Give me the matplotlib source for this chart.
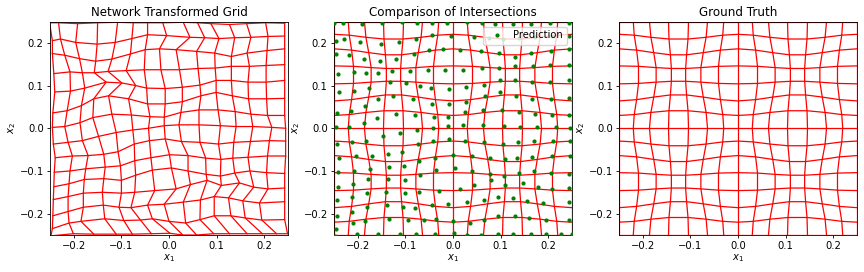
import matplotlib.pyplot as plt
import numpy as np

# Ground truth grid nodes: 15 horizontal lines (rows, bottom -> top) x 15 vertical lines
gt_x = [
    [-0.25, -0.220, -0.186, -0.146, -0.104, -0.064, -0.030, 0.0, 0.030, 0.064, 0.104, 0.146, 0.186, 0.220, 0.25],
    [-0.25, -0.218, -0.183, -0.145, -0.105, -0.067, -0.032, 0.0, 0.032, 0.067, 0.105, 0.145, 0.183, 0.218, 0.25],
    [-0.25, -0.213, -0.177, -0.142, -0.108, -0.073, -0.037, 0.0, 0.037, 0.073, 0.108, 0.142, 0.177, 0.213, 0.25],
    [-0.25, -0.209, -0.172, -0.140, -0.110, -0.078, -0.041, 0.0, 0.041, 0.078, 0.110, 0.140, 0.172, 0.209, 0.25],
    [-0.25, -0.209, -0.172, -0.140, -0.110, -0.078, -0.041, 0.0, 0.041, 0.078, 0.110, 0.140, 0.172, 0.209, 0.25],
    [-0.25, -0.213, -0.177, -0.142, -0.108, -0.073, -0.037, 0.0, 0.037, 0.073, 0.108, 0.142, 0.177, 0.213, 0.25],
    [-0.25, -0.218, -0.183, -0.145, -0.105, -0.067, -0.032, 0.0, 0.032, 0.067, 0.105, 0.145, 0.183, 0.218, 0.25],
    [-0.25, -0.220, -0.186, -0.146, -0.104, -0.064, -0.030, 0.0, 0.030, 0.064, 0.104, 0.146, 0.186, 0.220, 0.25],
    [-0.25, -0.218, -0.183, -0.145, -0.105, -0.067, -0.032, 0.0, 0.032, 0.067, 0.105, 0.145, 0.183, 0.218, 0.25],
    [-0.25, -0.213, -0.177, -0.142, -0.108, -0.073, -0.037, 0.0, 0.037, 0.073, 0.108, 0.142, 0.177, 0.213, 0.25],
    [-0.25, -0.209, -0.172, -0.140, -0.110, -0.078, -0.041, 0.0, 0.041, 0.078, 0.110, 0.140, 0.172, 0.209, 0.25],
    [-0.25, -0.209, -0.172, -0.140, -0.110, -0.078, -0.041, 0.0, 0.041, 0.078, 0.110, 0.140, 0.172, 0.209, 0.25],
    [-0.25, -0.213, -0.177, -0.142, -0.108, -0.073, -0.037, 0.0, 0.037, 0.073, 0.108, 0.142, 0.177, 0.213, 0.25],
    [-0.25, -0.218, -0.183, -0.145, -0.105, -0.067, -0.032, 0.0, 0.032, 0.067, 0.105, 0.145, 0.183, 0.218, 0.25],
    [-0.25, -0.220, -0.186, -0.146, -0.104, -0.064, -0.030, 0.0, 0.030, 0.064, 0.104, 0.146, 0.186, 0.220, 0.25],
]
gt_y = [
    [-0.25] * 15,
    [-0.220, -0.218, -0.213, -0.209, -0.209, -0.213, -0.218, -0.220, -0.218, -0.213, -0.209, -0.209, -0.213, -0.218, -0.220],
    [-0.186, -0.183, -0.177, -0.172, -0.172, -0.177, -0.183, -0.186, -0.183, -0.177, -0.172, -0.172, -0.177, -0.183, -0.186],
    [-0.146, -0.145, -0.142, -0.140, -0.140, -0.142, -0.145, -0.146, -0.145, -0.142, -0.140, -0.140, -0.142, -0.145, -0.146],
    [-0.104, -0.105, -0.108, -0.110, -0.110, -0.108, -0.105, -0.104, -0.105, -0.108, -0.110, -0.110, -0.108, -0.105, -0.104],
    [-0.064, -0.067, -0.073, -0.078, -0.078, -0.073, -0.067, -0.064, -0.067, -0.073, -0.078, -0.078, -0.073, -0.067, -0.064],
    [-0.030, -0.032, -0.037, -0.041, -0.041, -0.037, -0.032, -0.030, -0.032, -0.037, -0.041, -0.041, -0.037, -0.032, -0.030],
    [0.0] * 15,
    [0.030, 0.032, 0.037, 0.041, 0.041, 0.037, 0.032, 0.030, 0.032, 0.037, 0.041, 0.041, 0.037, 0.032, 0.030],
    [0.064, 0.067, 0.073, 0.078, 0.078, 0.073, 0.067, 0.064, 0.067, 0.073, 0.078, 0.078, 0.073, 0.067, 0.064],
    [0.104, 0.105, 0.108, 0.110, 0.110, 0.108, 0.105, 0.104, 0.105, 0.108, 0.110, 0.110, 0.108, 0.105, 0.104],
    [0.146, 0.145, 0.142, 0.140, 0.140, 0.142, 0.145, 0.146, 0.145, 0.142, 0.140, 0.140, 0.142, 0.145, 0.146],
    [0.186, 0.183, 0.177, 0.172, 0.172, 0.177, 0.183, 0.186, 0.183, 0.177, 0.172, 0.172, 0.177, 0.183, 0.186],
    [0.220, 0.218, 0.213, 0.209, 0.209, 0.213, 0.218, 0.220, 0.218, 0.213, 0.209, 0.209, 0.213, 0.218, 0.220],
    [0.25] * 15,
]

# Network prediction nodes (same layout)
net_x = [
    [-0.248, -0.201, -0.158, -0.111, -0.077, -0.037, 0.002, 0.029, 0.058, 0.094, 0.127, 0.164, 0.196, 0.226, 0.249],
    [-0.245, -0.210, -0.185, -0.135, -0.095, -0.060, -0.035, 0.000, 0.035, 0.065, 0.095, 0.130, 0.160, 0.195, 0.243],
    [-0.244, -0.212, -0.180, -0.138, -0.105, -0.080, -0.045, -0.010, 0.030, 0.066, 0.095, 0.125, 0.155, 0.190, 0.243],
    [-0.243, -0.212, -0.180, -0.140, -0.100, -0.072, -0.030, 0.015, 0.045, 0.080, 0.110, 0.148, 0.178, 0.208, 0.243],
    [-0.242, -0.210, -0.178, -0.137, -0.100, -0.070, -0.035, 0.005, 0.040, 0.078, 0.108, 0.138, 0.170, 0.205, 0.243],
    [-0.241, -0.208, -0.175, -0.134, -0.102, -0.072, -0.038, 0.001, 0.040, 0.077, 0.109, 0.134, 0.166, 0.207, 0.245],
    [-0.239, -0.203, -0.170, -0.137, -0.107, -0.073, -0.041, -0.008, 0.026, 0.065, 0.104, 0.136, 0.171, 0.211, 0.245],
    [-0.243, -0.212, -0.182, -0.148, -0.111, -0.076, -0.043, -0.010, 0.021, 0.063, 0.108, 0.141, 0.176, 0.216, 0.245],
    [-0.245, -0.219, -0.187, -0.160, -0.120, -0.079, -0.040, -0.010, 0.025, 0.063, 0.103, 0.139, 0.172, 0.207, 0.243],
    [-0.244, -0.214, -0.184, -0.158, -0.127, -0.085, -0.045, -0.008, 0.028, 0.067, 0.099, 0.133, 0.167, 0.205, 0.243],
    [-0.240, -0.207, -0.177, -0.132, -0.099, -0.070, -0.047, -0.008, 0.028, 0.065, 0.099, 0.131, 0.166, 0.204, 0.243],
    [-0.242, -0.208, -0.182, -0.157, -0.128, -0.090, -0.052, -0.017, 0.022, 0.061, 0.097, 0.131, 0.169, 0.204, 0.243],
    [-0.245, -0.219, -0.188, -0.154, -0.120, -0.081, -0.050, -0.020, 0.015, 0.058, 0.096, 0.131, 0.164, 0.206, 0.243],
    [-0.245, -0.228, -0.196, -0.151, -0.113, -0.078, -0.045, -0.005, 0.044, 0.075, 0.105, 0.138, 0.172, 0.208, 0.243],
    [-0.251, -0.232, -0.192, -0.150, -0.108, -0.075, -0.045, -0.013, 0.030, 0.060, 0.088, 0.127, 0.163, 0.203, 0.243],
]
net_y = [
    [-0.252, -0.247, -0.248, -0.248, -0.248, -0.247, -0.246, -0.250, -0.250, -0.247, -0.247, -0.247, -0.247, -0.247, -0.247],
    [-0.235, -0.222, -0.218, -0.212, -0.216, -0.215, -0.212, -0.218, -0.222, -0.214, -0.205, -0.205, -0.210, -0.215, -0.214],
    [-0.205, -0.195, -0.185, -0.180, -0.185, -0.186, -0.180, -0.178, -0.173, -0.168, -0.160, -0.163, -0.170, -0.175, -0.172],
    [-0.167, -0.160, -0.152, -0.150, -0.152, -0.150, -0.146, -0.142, -0.132, -0.122, -0.134, -0.128, -0.138, -0.142, -0.140],
    [-0.137, -0.130, -0.120, -0.118, -0.122, -0.110, -0.098, -0.093, -0.100, -0.108, -0.112, -0.105, -0.100, -0.104, -0.106],
    [-0.103, -0.100, -0.095, -0.091, -0.088, -0.076, -0.069, -0.062, -0.064, -0.070, -0.073, -0.070, -0.068, -0.065, -0.065],
    [-0.069, -0.065, -0.064, -0.061, -0.055, -0.037, -0.029, -0.025, -0.031, -0.033, -0.037, -0.033, -0.031, -0.029, -0.030],
    [-0.037, -0.033, -0.029, -0.019, -0.010, -0.004, 0.000, 0.006, 0.008, 0.008, 0.006, 0.004, 0.004, 0.002, 0.000],
    [0.002, 0.004, 0.013, 0.025, 0.033, 0.031, 0.027, 0.026, 0.037, 0.043, 0.043, 0.039, 0.033, 0.030, 0.030],
    [0.036, 0.041, 0.053, 0.069, 0.076, 0.069, 0.057, 0.057, 0.062, 0.076, 0.084, 0.076, 0.069, 0.069, 0.070],
    [0.085, 0.087, 0.094, 0.108, 0.106, 0.100, 0.094, 0.093, 0.096, 0.101, 0.112, 0.112, 0.108, 0.108, 0.112],
    [0.128, 0.132, 0.130, 0.130, 0.133, 0.135, 0.137, 0.137, 0.137, 0.140, 0.141, 0.145, 0.145, 0.147, 0.149],
    [0.175, 0.171, 0.163, 0.157, 0.162, 0.174, 0.184, 0.186, 0.184, 0.180, 0.176, 0.168, 0.176, 0.182, 0.186],
    [0.205, 0.209, 0.201, 0.197, 0.201, 0.210, 0.219, 0.217, 0.213, 0.212, 0.210, 0.212, 0.213, 0.215, 0.216],
    [0.247, 0.247, 0.245, 0.247, 0.248, 0.247, 0.247, 0.247, 0.248, 0.247, 0.245, 0.243, 0.245, 0.247, 0.246],
]

titles = ["Network Transformed Grid", "Comparison of Intersections", "Ground Truth"]
ticks = [-0.2, -0.1, 0.0, 0.1, 0.2]

plt.rcParams["font.size"] = 7.2


def draw_grid(ax, gx, gy):
    gx = np.array(gx)
    gy = np.array(gy)
    for j in range(gx.shape[0]):
        ax.plot(gx[j], gy[j], color="red", lw=0.9)
    for i in range(gx.shape[1]):
        ax.plot(gx[:, i], gy[:, i], color="red", lw=0.9)


fig = plt.figure(figsize=(8.64, 2.72), dpi=100)
lefts = [50 / 864, 334 / 864, 619 / 864]
axes = [fig.add_axes([l, 37 / 272, 238 / 864, 213.5 / 272]) for l in lefts]

draw_grid(axes[0], net_x, net_y)
draw_grid(axes[1], gt_x, gt_y)
axes[1].plot(np.array(net_x).ravel(), np.array(net_y).ravel(), "o", color="green",
             ms=2.0, ls="none", label="Prediction", zorder=3)
axes[1].legend(loc="upper right", fontsize=7.2, borderpad=0.4, handletextpad=0.6)
draw_grid(axes[2], gt_x, gt_y)

for ax, t in zip(axes, titles):
    ax.set_xlim(-0.25, 0.25)
    ax.set_ylim(-0.25, 0.25)
    ax.set_xticks(ticks)
    ax.set_yticks(ticks)
    ax.tick_params(length=2.5, width=0.6, pad=2)
    for s in ax.spines.values():
        s.set_linewidth(0.6)
    ax.set_title(t, fontsize=8.6, pad=4)
    ax.set_xlabel("$x_1$", labelpad=1)
    ax.set_ylabel("$x_2$", labelpad=1)

fig.savefig("out.png", dpi=100)
